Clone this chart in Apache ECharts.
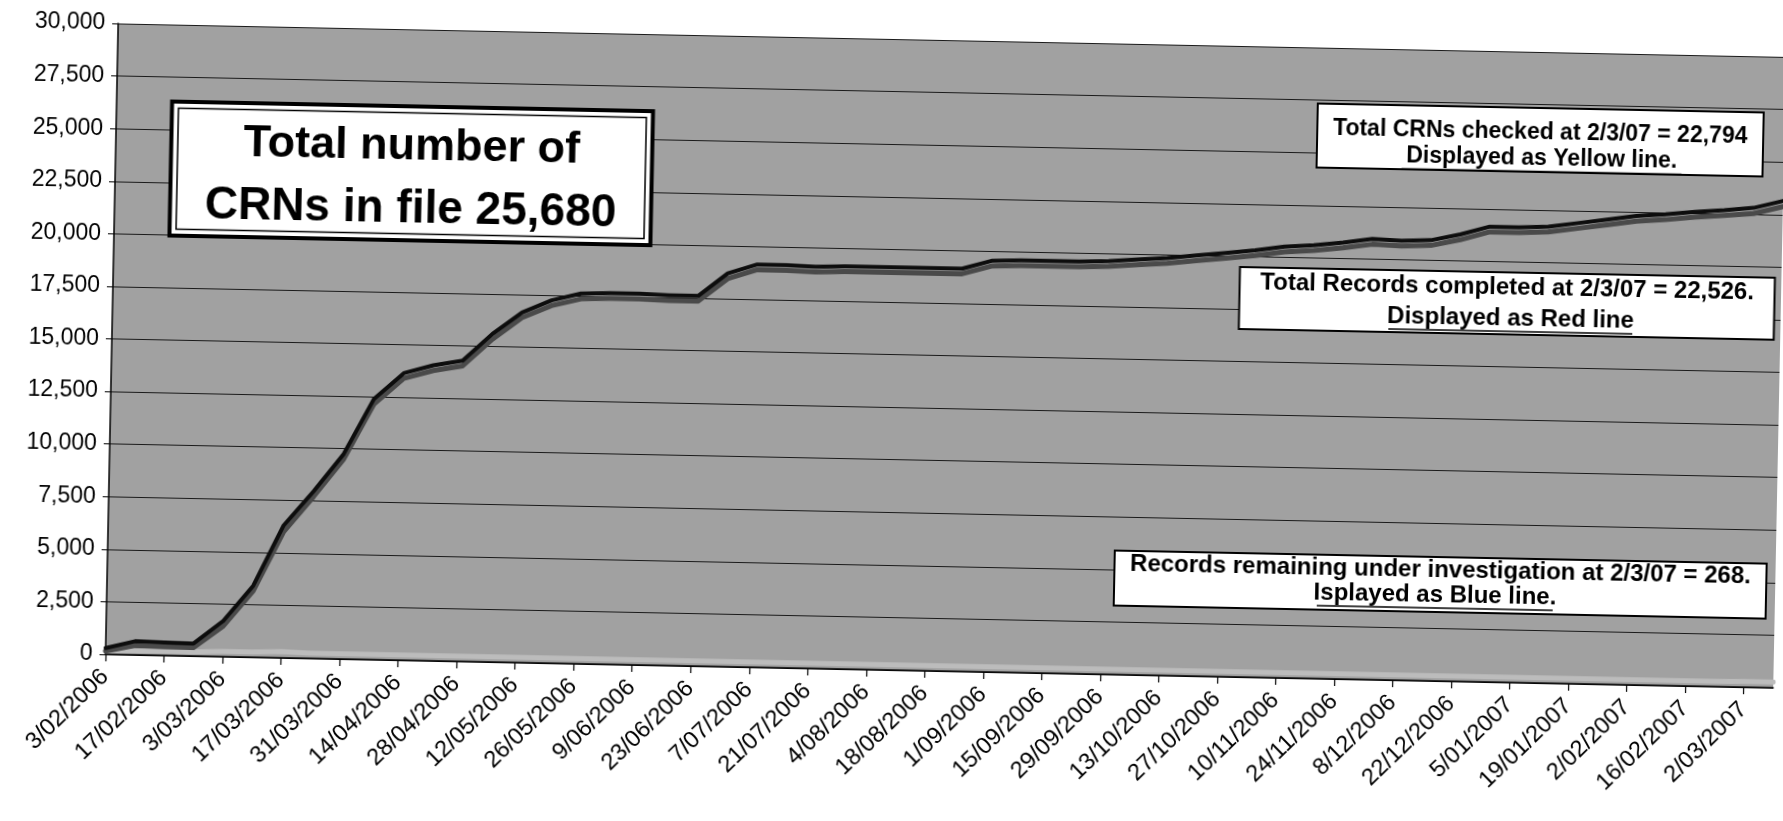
<!DOCTYPE html>
<html>
<head>
<meta charset="utf-8">
<script src="https://cdn.jsdelivr.net/npm/echarts@6/dist/echarts.min.js"></script>
<style>
  html, body { margin: 0; padding: 0; background: #ffffff; overflow: hidden; }
  #chart { width: 1783px; height: 821px; transform: rotate(1.15deg); transform-origin: 940px 340px; }
</style>
</head>
<body>
<div id="chart"></div>
<script>
// Weekly dates (category axis)
const categories = [
  '3/02/2006','10/02/2006','17/02/2006','24/02/2006','3/03/2006','10/03/2006','17/03/2006','24/03/2006',
  '31/03/2006','7/04/2006','14/04/2006','21/04/2006','28/04/2006','5/05/2006','12/05/2006','19/05/2006',
  '26/05/2006','2/06/2006','9/06/2006','16/06/2006','23/06/2006','30/06/2006','7/07/2006','14/07/2006',
  '21/07/2006','28/07/2006','4/08/2006','11/08/2006','18/08/2006','25/08/2006','1/09/2006','8/09/2006',
  '15/09/2006','22/09/2006','29/09/2006','6/10/2006','13/10/2006','20/10/2006','27/10/2006','3/11/2006',
  '10/11/2006','17/11/2006','24/11/2006','1/12/2006','8/12/2006','15/12/2006','22/12/2006','29/12/2006',
  '5/01/2007','12/01/2007','19/01/2007','26/01/2007','2/02/2007','9/02/2007','16/02/2007','23/02/2007',
  '2/03/2007','9/03/2007'
];

// Total CRNs checked (yellow line in the original)
const crnsChecked = [
  300, 650, 620, 600, 1700, 3400, 6300, 7950,
  9750, 12400, 13650, 14050, 14300, 15600, 16650, 17250,
  17600, 17650, 17650, 17600, 17600, 18700, 19150, 19150,
  19100, 19150, 19150, 19150, 19150, 19150, 19550, 19600,
  19600, 19600, 19650, 19750, 19850, 20000, 20150, 20300,
  20500, 20600, 20750, 20950, 20900, 20950, 21250, 21650,
  21650, 21700, 21900, 22100, 22300, 22400, 22550, 22650,
  22794, 23150
];

// Total records completed (red line in the original)
const recordsCompleted = [
  150, 450, 420, 400, 1450, 3150, 6000, 7700,
  9500, 12150, 13400, 13800, 14050, 15350, 16400, 17000,
  17350, 17400, 17400, 17350, 17350, 18450, 18900, 18900,
  18850, 18900, 18900, 18900, 18900, 18900, 19300, 19350,
  19350, 19350, 19400, 19500, 19600, 19750, 19900, 20050,
  20250, 20350, 20500, 20700, 20650, 20700, 21000, 21400,
  21400, 21450, 21650, 21850, 22050, 22150, 22300, 22400,
  22526, 22880
];

// Records remaining under investigation (blue line in the original)
const recordsRemaining = [
  150, 200, 200, 200, 250, 250, 300, 250,
  250, 250, 250, 250, 250, 250, 250, 250,
  250, 250, 250, 250, 250, 250, 250, 250,
  250, 250, 250, 250, 250, 250, 250, 250,
  250, 250, 250, 250, 250, 250, 250, 250,
  250, 250, 250, 250, 250, 250, 250, 250,
  250, 250, 250, 250, 250, 250, 250, 250,
  268, 270
];

const yMin = 0, yMax = 30000, yStep = 2500;

const FONT = '"Liberation Sans", Arial, sans-serif';

const chart = echarts.init(document.getElementById('chart'), null, { renderer: 'canvas' });

function boxText(x, y, text, size) {
  return {
    type: 'text', x: x, y: y, z: 20,
    style: { text: text, fontFamily: FONT, fontWeight: 'bold', fontSize: size,
             fill: '#000', align: 'center', verticalAlign: 'middle' }
  };
}
function underline(x1, x2, y) {
  return { type: 'line', z: 20, shape: { x1: x1, y1: y, x2: x2, y2: y },
           style: { stroke: '#000', lineWidth: 1.5 } };
}
function box(x, y, w, h, lw) {
  return { type: 'rect', z: 15, shape: { x: x, y: y, width: w, height: h },
           style: { fill: '#fff', stroke: '#000', lineWidth: lw } };
}

const option = {
  animation: false,
  backgroundColor: '#ffffff',
  grid: {
    left: 112, top: 40, right: 3, bottom: 150,
    show: true, backgroundColor: '#a1a1a1', borderWidth: 0
  },
  xAxis: {
    type: 'category',
    data: categories,
    boundaryGap: false,
    axisLine: { lineStyle: { color: '#000', width: 1.5 } },
    axisTick: { show: true, interval: 1, length: 7, lineStyle: { color: '#000', width: 1.2 } },
    axisLabel: {
      interval: 1, rotate: 45, margin: 19,
      fontFamily: FONT, fontSize: 23.5, color: '#000'
    },
    splitLine: { show: false }
  },
  yAxis: {
    type: 'value',
    min: yMin, max: yMax, interval: yStep,
    axisLine: { show: true, lineStyle: { color: '#000', width: 1.5 } },
    axisTick: { show: true, length: 6, lineStyle: { color: '#000' } },
    axisLabel: {
      margin: 13, fontFamily: FONT, fontSize: 23, color: '#000',
      formatter: function (v) { return v.toLocaleString('en-US'); }
    },
    splitLine: { show: true, lineStyle: { color: '#1a1a1a', width: 1 } }
  },
  series: [
    {
      name: 'Records remaining under investigation', type: 'line', data: recordsRemaining,
      showSymbol: false, smooth: false, z: 3,
      lineStyle: { color: '#bcbcbc', width: 5, cap: 'round', join: 'round' }
    },
    {
      name: 'Total Records completed', type: 'line', data: recordsCompleted,
      showSymbol: false, smooth: false, z: 4,
      lineStyle: { color: '#4a4a4a', width: 5, cap: 'round', join: 'round' }
    },
    {
      name: 'Total CRNs checked', type: 'line', data: crnsChecked,
      showSymbol: false, smooth: false, z: 5,
      lineStyle: { color: '#0d0d0d', width: 4, cap: 'round', join: 'round' }
    }
  ],
  graphic: [
    // Title box (double frame)
    box(167.5, 117, 481, 134, 4),
    { type: 'rect', z: 16, shape: { x: 174, y: 123.5, width: 468, height: 121 },
      style: { fill: 'none', stroke: '#000', lineWidth: 1.5 } },
    boxText(408, 158, 'Total number of', 45),
    boxText(408, 220, 'CRNs in file 25,680', 46),

    // Yellow line note
    box(1313, 96, 446, 64, 2),
    boxText(1536, 120.5, 'Total CRNs checked at 2/3/07 = 22,794', 23),
    boxText(1538, 147, 'Displayed as Yellow line.', 23),
    underline(1398, 1678, 159.5),

    // Red line note
    box(1238.5, 261, 535, 62, 2),
    boxText(1506, 276, 'Total Records completed at 2/3/07 = 22,526.', 24),
    boxText(1510, 307, 'Displayed as Red line', 24),
    underline(1388, 1632, 320),

    // Blue line note
    box(1119, 547, 652, 55, 2),
    boxText(1445, 560, 'Records remaining under investigation at 2/3/07 = 268.', 24),
    boxText(1440, 585, 'Isplayed as Blue line.', 24),
    underline(1322, 1558, 598)
  ]
};

chart.setOption(option);
</script>
</body>
</html>
